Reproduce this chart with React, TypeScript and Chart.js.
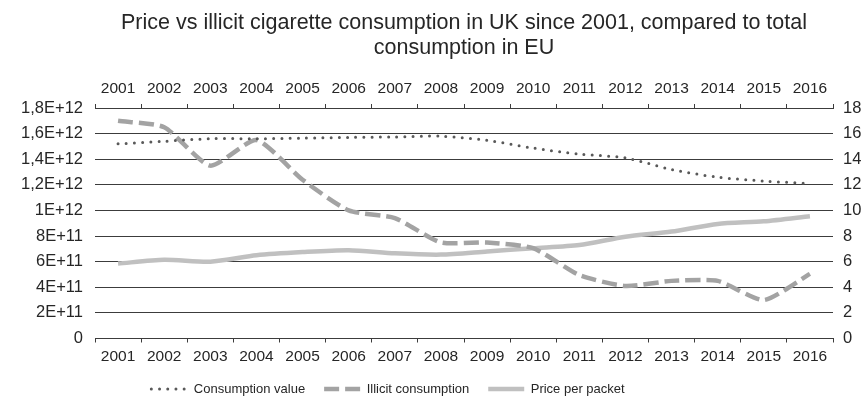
import React, { useEffect, useRef } from 'react';
import { Chart, registerables } from 'chart.js';

Chart.register(...registerables);

const years = ['2001', '2002', '2003', '2004', '2005', '2006', '2007', '2008', '2009', '2010', '2011', '2012', '2013', '2014', '2015', '2016'];
const consumptionValue = [1.52e12, 1.54e12, 1.56e12, 1.56e12, 1.565e12, 1.57e12, 1.574e12, 1.58e12, 1.547e12, 1.487e12, 1.44e12, 1.41e12, 1.32e12, 1.26e12, 1.23e12, 1.21e12];
const illicitConsumption = [17.0, 16.5, 13.5, 15.5, 12.4, 10.0, 9.4, 7.5, 7.5, 7.05, 4.95, 4.1, 4.5, 4.5, 3.0, 5.05];
const pricePerPacket = [5.85, 6.15, 6.0, 6.5, 6.75, 6.9, 6.65, 6.55, 6.8, 7.05, 7.3, 7.95, 8.35, 8.95, 9.15, 9.55];
const leftTickLabels = ['0', '2E+11', '4E+11', '6E+11', '8E+11', '1E+12', '1,2E+12', '1,4E+12', '1,6E+12', '1,8E+12'];
const rightTickLabels = ['0', '2', '4', '6', '8', '10', '12', '14', '16', '18'];
const titleLines = ['Price vs illicit cigarette consumption in UK since 2001, compared to total', 'consumption in EU'];
const seriesLabels = ['Consumption value', 'Illicit consumption', 'Price per packet'];

const FONT = "'Liberation Sans', Arial, sans-serif";
const TEXT = '#262626';
const GRID = '#3c3c3c';

const legendShift = {
  id: 'legendShift',
  afterLayout(chart: any) {
    if (chart.legend) {
      chart.legend.left -= 45;
      chart.legend.right -= 45;
    }
  },
};

export default function App() {
  const ref = useRef<HTMLCanvasElement>(null);

  useEffect(() => {
    document.body.style.margin = '0';
    Chart.defaults.font.family = FONT;
    const chart = new Chart(ref.current as HTMLCanvasElement, {
      type: 'line',
      data: {
        labels: years,
        datasets: [
          {
            label: seriesLabels[0],
            data: consumptionValue,
            yAxisID: 'y',
            xAxisID: 'x',
            borderColor: '#595959',
            backgroundColor: '#595959',
            borderWidth: 3,
            borderDash: [0, 8.2],
            borderCapStyle: 'round',
            pointRadius: 0,
            tension: 0.3,
            fill: false,
          },
          {
            label: seriesLabels[1],
            data: illicitConsumption,
            yAxisID: 'y1',
            xAxisID: 'x',
            borderColor: '#a3a3a3',
            backgroundColor: '#a3a3a3',
            borderWidth: 4.5,
            borderDash: [15, 6],
            borderCapStyle: 'butt',
            pointRadius: 0,
            tension: 0.2,
            fill: false,
          },
          {
            label: seriesLabels[2],
            data: pricePerPacket,
            yAxisID: 'y1',
            xAxisID: 'x',
            borderColor: '#c0c0c0',
            backgroundColor: '#c0c0c0',
            borderWidth: 4.5,
            borderCapStyle: 'butt',
            pointRadius: 0,
            tension: 0.25,
            fill: false,
          },
        ],
      },
      plugins: [legendShift],
      options: {
        responsive: false,
        animation: false,
        devicePixelRatio: 1,
        layout: { padding: { left: 0, right: 0, top: 0, bottom: 13.5 } },
        plugins: {
          tooltip: { enabled: false },
          title: {
            display: true,
            fullSize: false,
            text: titleLines,
            color: TEXT,
            font: { size: 21.5, weight: 'normal', family: FONT, lineHeight: '25px' },
            padding: { top: 11, bottom: 10 },
          },
          legend: {
            display: true,
            position: 'bottom',
            labels: {
              usePointStyle: true,
              pointStyleWidth: 36,
              boxHeight: 13,
              padding: 19,
              color: TEXT,
              font: { size: 13, family: FONT },
              generateLabels: (c: any) =>
                c.data.datasets.map((ds: any, i: number) => ({
                  text: ds.label,
                  fillStyle: ds.borderColor,
                  strokeStyle: ds.borderColor,
                  lineWidth: ds.borderWidth,
                  lineDash: ds.borderDash || [],
                  lineCap: ds.borderCapStyle,
                  pointStyle: 'line',
                  hidden: false,
                  datasetIndex: i,
                  fontColor: TEXT,
                })),
            },
          },
        },
        scales: {
          x: {
            type: 'category',
            position: 'bottom',
            offset: true,
            afterFit: (s: any) => { s.height = 25; },
            ticks: { color: TEXT, font: { size: 15.5, family: FONT }, padding: 5, maxRotation: 0, autoSkip: false },
            grid: { offset: true, drawOnChartArea: false, drawTicks: true, tickLength: 4, color: GRID, lineWidth: 1 },
            border: { display: true, color: GRID, width: 1 },
          },
          x2: {
            type: 'category',
            position: 'top',
            labels: years,
            offset: true,
            afterFit: (s: any) => { s.height = 37; },
            ticks: { color: TEXT, font: { size: 15.5, family: FONT }, padding: 6, maxRotation: 0, autoSkip: false },
            grid: { offset: true, drawOnChartArea: false, drawTicks: true, tickLength: 4, color: GRID, lineWidth: 1 },
            border: { display: true, color: GRID, width: 1 },
          },
          y: {
            type: 'linear',
            position: 'left',
            min: 0,
            max: 1.8e12,
            afterFit: (s: any) => { s.width = 95; },
            ticks: {
              stepSize: 2e11,
              color: TEXT,
              font: { size: 16.5, family: FONT },
              padding: 12,
              callback: (_v: any, i: number) => leftTickLabels[i],
            },
            grid: { color: GRID, lineWidth: 1, drawTicks: false },
            border: { display: false },
          },
          y1: {
            type: 'linear',
            position: 'right',
            min: 0,
            max: 18,
            afterFit: (s: any) => { s.width = 33; },
            ticks: {
              stepSize: 2,
              color: TEXT,
              font: { size: 16.5, family: FONT },
              padding: 10,
              callback: (_v: any, i: number) => rightTickLabels[i],
            },
            grid: { display: false, drawOnChartArea: false, drawTicks: false },
            border: { display: false },
          },
        },
      },
    } as any);
    return () => chart.destroy();
  }, []);

  return <canvas ref={ref} width={866} height={419} style={{ display: 'block' }} />;
}
